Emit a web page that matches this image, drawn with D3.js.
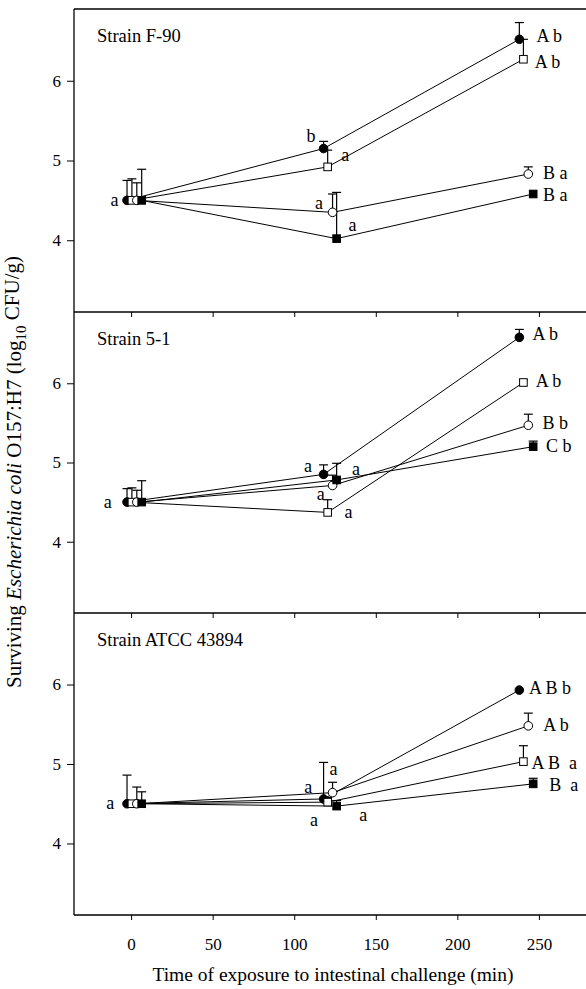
<!DOCTYPE html>
<html><head><meta charset="utf-8">
<script src="https://cdn.jsdelivr.net/npm/d3@7"></script>
<style>
body{margin:0;background:#fff}
svg{display:block}
text{font-family:"Liberation Serif","Times New Roman",serif;fill:#000}
</style>
</head><body>
<svg id="c" width="586" height="989"></svg>
<script>
// ---------------- DATA ----------------
const panelTitles = ["Strain F-90", "Strain 5-1", "Strain ATCC 43894"];
const seriesKeys = ["filledCircle", "openSquare", "openCircle", "filledSquare"];
// sampling times (min), slightly offset per series as in the original
const timeFilledCircle = [-2.5, 118, 238];
const timeOpenSquare   = [0.5, 120.5, 240.5];
const timeOpenCircle   = [3.5, 123.5, 243.5];
const timeFilledSquare = [6.5, 126, 246.5];

// means (log10 CFU/g); rows = filledCircle, openSquare, openCircle, filledSquare
const meanF90  = [[4.5, 5.15, 6.52], [4.5, 4.92, 6.27], [4.5, 4.35, 4.83], [4.5, 4.02, 4.58]];
const errF90   = [[4.75, 5.24, 6.73], [4.77, 5.13, 6.52], [4.72, 4.58, 4.92], [4.89, 4.60, null]];
const mean51   = [[4.5, 4.85, 6.58], [4.5, 4.37, 6.01], [4.5, 4.71, 5.47], [4.5, 4.78, 5.20]];
const err51    = [[4.67, 4.97, 6.68], [4.68, 4.53, 6.04], [4.65, 4.84, 5.61], [4.77, 4.99, 5.27]];
const meanATCC = [[4.5, 4.56, 5.93], [4.5, 4.52, 5.03], [4.5, 4.64, 5.48], [4.5, 4.47, 4.75]];
const errATCC  = [[4.86, 5.02, null], [null, 4.58, 5.23], [4.71, 4.77, 5.64], [4.65, 4.54, 4.82]];

// significance letters, placed at (time, log value)
const lettersF90 = [
  {text: "a", t: -12.7, v: 4.5}, {text: "b", t: 107.6, v: 5.30}, {text: "a", t: 128.8, v: 5.07},
  {text: "a", t: 112.7, v: 4.46}, {text: "a", t: 133.3, v: 4.19},
  {text: "A b", t: 248.5, v: 6.56}, {text: "A b", t: 247.4, v: 6.23},
  {text: "B a", t: 252.5, v: 4.84}, {text: "B a", t: 252.5, v: 4.57}
];
const letters51 = [
  {text: "a", t: -16.8, v: 4.5}, {text: "a", t: 106, v: 4.95}, {text: "a", t: 135.4, v: 4.92},
  {text: "a", t: 113.8, v: 4.60}, {text: "a", t: 130.9, v: 4.37},
  {text: "A b", t: 246, v: 6.62}, {text: "A b", t: 248, v: 6.02},
  {text: "B b", t: 252.2, v: 5.49}, {text: "C b", t: 254.3, v: 5.20}
];
const lettersATCC = [
  {text: "a", t: -15.3, v: 4.5}, {text: "a", t: 106.2, v: 4.71}, {text: "a", t: 121.6, v: 4.93},
  {text: "a", t: 109.7, v: 4.29}, {text: "a", t: 139.9, v: 4.36},
  {text: "A B b", t: 243.9, v: 5.95}, {text: "A b", t: 252.6, v: 5.49},
  {text: "A B  a", t: 245.4, v: 5.01}, {text: "B  a", t: 256.3, v: 4.73}
];

const xTicks = [0, 50, 100, 150, 200, 250];
const yTicks = [4, 5, 6];
const xDomain = [-35, 285];
const yDomain = [3.1, 6.9];

// ---------------- DRAW ----------------
const times = [timeFilledCircle, timeOpenSquare, timeOpenCircle, timeFilledSquare];
const means = [meanF90, mean51, meanATCC];
const errs = [errF90, err51, errATCC];
const letters = [lettersF90, letters51, lettersATCC];

const svg = d3.select("#c");
const left = 74, right = 596;
const panelTop = [9, 312, 613], panelBottom = [312, 613, 915];
const x = d3.scaleLinear().domain(xDomain).range([left, right]);

panelTitles.forEach((title, p) => {
  const y = d3.scaleLinear().domain(yDomain).range([panelBottom[p], panelTop[p]]);
  const g = svg.append("g");

  // frame
  g.append("line").attr("x1", left).attr("x2", left).attr("y1", panelTop[p]).attr("y2", panelBottom[p])
    .attr("stroke", "#000").attr("stroke-width", 1.3);
  g.append("line").attr("x1", left).attr("x2", right).attr("y1", panelTop[p]).attr("y2", panelTop[p])
    .attr("stroke", "#000").attr("stroke-width", 1.3);

  // y axis
  const ya = g.append("g").attr("transform", `translate(${left},0)`)
    .call(d3.axisLeft(y).tickValues(yTicks).tickSize(7).tickPadding(6).tickFormat(d3.format("d")));
  ya.select(".domain").remove();
  ya.selectAll("text").attr("font-size", 17).attr("font-family", "Liberation Serif");

  // inward top ticks for the lower panels
  if (p > 0) {
    const xa = g.append("g").attr("transform", `translate(0,${panelTop[p]})`)
      .call(d3.axisBottom(x).tickValues(xTicks).tickSize(5).tickFormat(""));
    xa.select(".domain").remove();
  }
  if (p === 2) {
    g.append("line").attr("x1", left).attr("x2", right).attr("y1", panelBottom[p]).attr("y2", panelBottom[p])
      .attr("stroke", "#000").attr("stroke-width", 1.3);
    const xb = g.append("g").attr("transform", `translate(0,${panelBottom[p]})`)
      .call(d3.axisBottom(x).tickValues(xTicks).tickSize(5).tickPadding(18));
    xb.select(".domain").remove();
    xb.selectAll("text").attr("font-size", 17).attr("font-family", "Liberation Serif");
  }

  // title
  g.append("text").attr("x", 97).attr("y", panelTop[p] + 33).attr("font-size", 18.5).text(title);

  const line = d3.line().x(d => x(d[0])).y(d => y(d[1]));

  seriesKeys.forEach((key, s) => {
    const pts = times[s].map((t, i) => [t, means[p][s][i], errs[p][s][i]]);
    g.append("path").attr("d", line(pts)).attr("fill", "none").attr("stroke", "#000").attr("stroke-width", 1);
    pts.forEach(d => {
      if (d[2] == null) return;
      g.append("line").attr("x1", x(d[0])).attr("x2", x(d[0])).attr("y1", y(d[1])).attr("y2", y(d[2]))
        .attr("stroke", "#000").attr("stroke-width", 1.2);
      g.append("line").attr("x1", x(d[0]) - 4.5).attr("x2", x(d[0]) + 4.5).attr("y1", y(d[2])).attr("y2", y(d[2]))
        .attr("stroke", "#000").attr("stroke-width", 1.2);
    });
  });

  seriesKeys.forEach((key, s) => {
    const pts = times[s].map((t, i) => [t, means[p][s][i]]);
    const filled = key.startsWith("filled");
    if (key.endsWith("Circle")) {
      g.selectAll(null).data(pts).enter().append("circle")
        .attr("cx", d => x(d[0])).attr("cy", d => y(d[1])).attr("r", 4.3)
        .attr("fill", filled ? "#000" : "#fff").attr("stroke", "#000").attr("stroke-width", 1);
    } else {
      const sz = 7.6;
      g.selectAll(null).data(pts).enter().append("rect")
        .attr("x", d => x(d[0]) - sz / 2).attr("y", d => y(d[1]) - sz / 2).attr("width", sz).attr("height", sz)
        .attr("fill", filled ? "#000" : "#fff").attr("stroke", "#000").attr("stroke-width", 1);
    }
  });

  g.selectAll(null).data(letters[p]).enter().append("text")
    .attr("x", d => x(d.t)).attr("y", d => y(d.v)).attr("dy", "0.32em")
    .attr("font-size", 18).style("white-space", "pre").text(d => d.text);
});

// axis titles
svg.append("text").attr("x", 333).attr("y", 981).attr("text-anchor", "middle").attr("font-size", 19.5)
  .text("Time of exposure to intestinal challenge (min)");

const yl = svg.append("text").attr("transform", "translate(21,472) rotate(-90)").attr("text-anchor", "middle").attr("font-size", 21);
yl.append("tspan").text("Surviving ");
yl.append("tspan").attr("font-style", "italic").text("Escherichia coli");
yl.append("tspan").text(" O157:H7 (log");
yl.append("tspan").attr("font-size", 15).attr("dy", "0.3em").text("10");
yl.append("tspan").attr("dy", "-0.3em").text(" CFU/g)");
</script>
</body></html>
